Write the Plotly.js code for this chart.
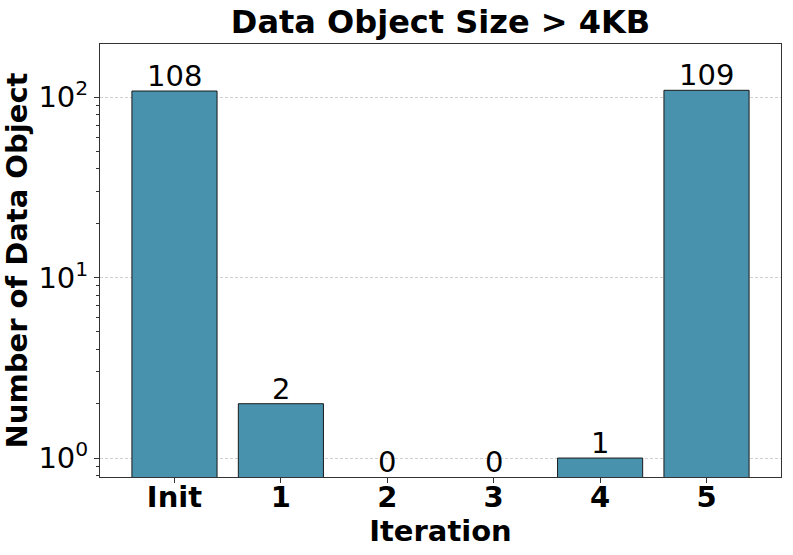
<!DOCTYPE html>
<html>
<head>
<meta charset="utf-8">
<script src="https://cdn.plot.ly/plotly-3.0.1.min.js"></script>
<style>
  body { margin: 0; background: #fff; }
  #plotArea { width: 793px; height: 555px; }
</style>
</head>
<body>
<div id="plotArea"></div>
<script>
// data
var iterations = ["Init", "1", "2", "3", "4", "5"];
var objectCounts = [108, 2, 0, 0, 1, 109];
var yTickVals = [1, 10, 100];
var yTickText = ["10<sup>0</sup>", "10<sup>1</sup>", "10<sup>2</sup>"];
var yMinorVals = [0.8, 0.9, 2, 3, 4, 5, 6, 7, 8, 9, 20, 30, 40, 50, 60, 70, 80, 90];

var yRange = [-0.105, 2.294];

// zero counts can't sit on a log axis, so leave them out of the bars
var barY = objectCounts.map(function (v) { return v > 0 ? v : null; });

var trace = {
	x: iterations,
	y: barY,
	type: "bar",
	width: 0.8,
	marker: {
		color: "#4892ae",
		line: { color: "#1a1a1a", width: 1 }
	},
	hoverinfo: "skip"
};

// value labels above each bar (zero ones rest on the bottom of the axis)
var labels = iterations.map(function (name, i) {
	var v = objectCounts[i];
	return {
		x: name,
		y: v > 0 ? Math.log10(v) : yRange[0],
		text: String(v),
		showarrow: false,
		xref: "x",
		yref: "y",
		yanchor: "bottom",
		yshift: -4,
		font: { family: "DejaVu Sans", size: 29, color: "#000" }
	};
});

var layout = {
	width: 793,
	height: 555,
	margin: { l: 100, r: 12, t: 44, b: 78 },
	paper_bgcolor: "#fff",
	plot_bgcolor: "#fff",
	showlegend: false,
	font: { family: "DejaVu Sans", color: "#000" },
	title: {
		text: "<b>Data Object Size > 4KB</b>",
		font: { family: "DejaVu Sans", size: 32, color: "#000" },
		x: 0.5,
		xref: "paper",
		y: 25,
		yref: "container",
		yanchor: "middle"
	},
	xaxis: {
		type: "category",
		range: [-0.7, 5.7],
		tickvals: iterations,
		ticktext: iterations.map(function (t) { return "<b>" + t + "</b>"; }),
		tickfont: { family: "DejaVu Sans", size: 29, color: "#000" },
		ticks: "outside",
		ticklen: 5,
		tickcolor: "#333",
		ticklabelstandoff: -11,
		showline: true,
		linecolor: "#333",
		linewidth: 1,
		mirror: true,
		showgrid: false,
		zeroline: false,
		title: {
			text: "<b>Iteration</b>",
			font: { family: "DejaVu Sans", size: 29, color: "#000" },
			standoff: 0
		}
	},
	yaxis: {
		type: "log",
		range: yRange,
		tickmode: "array",
		tickvals: yTickVals,
		ticktext: yTickText,
		tickfont: { family: "DejaVu Sans", size: 29, color: "#000" },
		ticks: "outside",
		ticklen: 5,
		tickcolor: "#333",
		minor: {
			tickmode: "array",
			tickvals: yMinorVals,
			ticks: "outside",
			ticklen: 3,
			tickcolor: "#333",
			showgrid: false
		},
		showline: true,
		linecolor: "#333",
		linewidth: 1,
		mirror: true,
		showgrid: true,
		gridcolor: "#c4c4c4",
		griddash: "3px,2px",
		gridwidth: 0.8,
		zeroline: false,
		title: {
			text: "<b>Number of Data Object</b>",
			font: { family: "DejaVu Sans", size: 29, color: "#000" },
			standoff: 2
		}
	},
	annotations: labels
};

Plotly.newPlot("plotArea", [trace], layout, { staticPlot: true, displayModeBar: false });
</script>
</body>
</html>
